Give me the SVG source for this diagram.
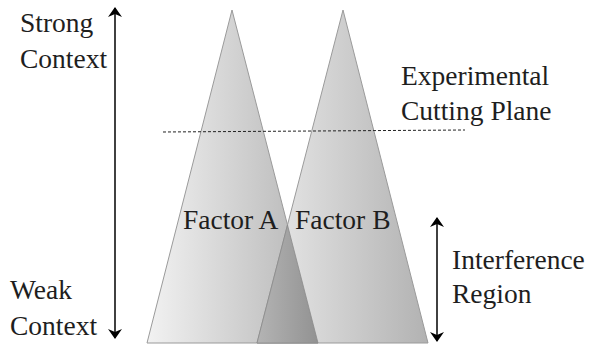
<svg xmlns="http://www.w3.org/2000/svg" width="589" height="347" viewBox="0 0 589 347">
<style>
text{font-family:'Liberation Serif','DejaVu Serif',serif;font-size:27.5px;fill:#1e1e1e}
.tri{stroke:#9a9a9a;stroke-width:1}
.ax{stroke:#111;stroke-width:1.6;fill:none}
</style>
<defs>
<linearGradient id="gA" x1="0" y1="0" x2="1" y2="0">
<stop offset="0" stop-color="#f2f2f2"/>
<stop offset="1" stop-color="#b4b4b4"/>
</linearGradient>
<linearGradient id="gB" x1="0" y1="0" x2="1" y2="0">
<stop offset="0" stop-color="#ebebeb"/>
<stop offset="1" stop-color="#b2b2b2"/>
</linearGradient>
<linearGradient id="gO" x1="0" y1="0" x2="1" y2="0">
<stop offset="0" stop-color="#b4b4b4"/>
<stop offset="1" stop-color="#929292"/>
</linearGradient>
<marker id="ah" viewBox="0 0 10 20" refX="9" refY="10" markerWidth="10" markerHeight="20" markerUnits="userSpaceOnUse" orient="auto-start-reverse">
<path d="M0,3 L10,10 L0,17 L3,10 Z" fill="#000"/>
</marker>
</defs>
<rect width="589" height="347" fill="#fff"/>
<g id="factorA">
<polygon class="tri" points="232,10 318,343 147,343" fill="url(#gA)"/>
<text x="183" y="229">Factor A</text>
</g>
<g id="factorB">
<polygon class="tri" points="343,10 428,343 257,343" fill="url(#gB)"/>
<text x="295" y="229">Factor B</text>
</g>
<g id="overlap">
<polygon points="287.5,225 318,343 257,343" fill="url(#gO)" stroke="#8a8a8a" stroke-width="0.8"/>
</g>
<g id="connectors">
<line class="ax" x1="115" y1="338" x2="115" y2="8" marker-start="url(#ah)" marker-end="url(#ah)"/>
<line class="ax" x1="437" y1="341" x2="437" y2="218" marker-start="url(#ah)" marker-end="url(#ah)"/>
<line x1="163" y1="132" x2="465" y2="130" stroke="#222" stroke-width="1" stroke-dasharray="3,2"/>
</g>
<g id="labels">
<text x="20" y="32">Strong</text>
<text x="20" y="68">Context</text>
<text x="10" y="299">Weak</text>
<text x="10" y="335">Context</text>
<text x="401" y="85">Experimental</text>
<text x="401" y="120">Cutting Plane</text>
<text x="452" y="269">Interference</text>
<text x="452" y="303">Region</text>
</g>
</svg>
